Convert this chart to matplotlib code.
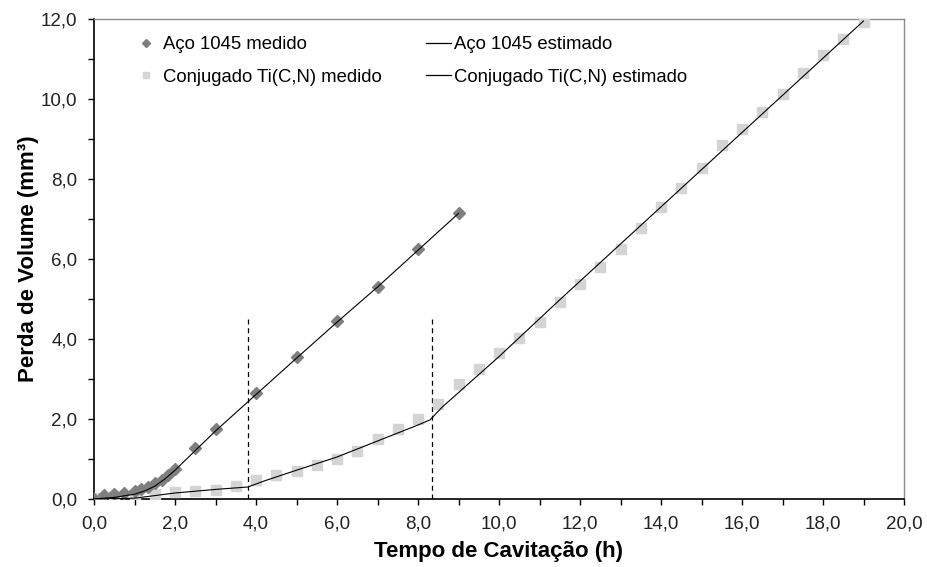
import matplotlib
matplotlib.use("Agg")
import matplotlib.pyplot as plt
from matplotlib.ticker import MultipleLocator, FuncFormatter
from matplotlib.lines import Line2D

plt.rcParams['font.family'] = ['Liberation Sans', 'DejaVu Sans']

# ---- data ----
aco_x = [0.0, 0.25, 0.5, 0.75, 1.0, 1.17, 1.33, 1.5, 1.67, 1.83, 2.0, 2.5, 3.0, 4.0, 5.0, 6.0, 7.0, 8.0, 9.0]
aco_y = [0.0, 0.10, 0.13, 0.16, 0.19, 0.24, 0.31, 0.39, 0.48, 0.60, 0.76, 1.28, 1.74, 2.66, 3.56, 4.46, 5.29, 6.24, 7.14]

aco_est_x = [0.0, 0.5, 1.0, 1.25, 1.5, 1.75, 2.0, 3.0, 3.8, 5.0, 6.0, 7.0, 8.0, 9.0]
aco_est_y = [0.0, 0.04, 0.12, 0.2, 0.32, 0.5, 0.72, 1.7, 2.43, 3.52, 4.42, 5.3, 6.22, 7.14]

ti_x = [0.0, 0.5, 1.0, 1.5, 2.0, 2.5, 3.0, 3.5, 4.0, 4.5, 5.0, 5.5, 6.0, 6.5, 7.0, 7.5, 8.0, 8.5, 9.0, 9.5,
        10.0, 10.5, 11.0, 11.5, 12.0, 12.5, 13.0, 13.5, 14.0, 14.5, 15.0, 15.5, 16.0, 16.5, 17.0, 17.5, 18.0, 18.5, 19.0]
ti_y = [0.02, 0.08, 0.10, 0.13, 0.18, 0.20, 0.22, 0.32, 0.48, 0.59, 0.70, 0.86, 1.01, 1.21, 1.50, 1.76, 1.99, 2.37, 2.87, 3.24,
        3.64, 4.02, 4.42, 4.93, 5.38, 5.80, 6.26, 6.78, 7.31, 7.77, 8.27, 8.84, 9.26, 9.68, 10.12, 10.66, 11.11, 11.50, 11.92]

ti_est_x = [0.0, 1.0, 2.0, 3.0, 3.8, 4.2, 5.0, 6.0, 7.0, 8.0, 8.3, 8.6, 10.0, 11.5, 19.0]
ti_est_y = [0.0, 0.02, 0.15, 0.24, 0.30, 0.45, 0.72, 1.05, 1.45, 1.85, 1.98, 2.3, 3.56, 4.98, 11.95]

transition_x = [3.8, 8.35]
transition_top = 4.55

labels = ["Aço 1045 medido", "Aço 1045 estimado",
          "Conjugado Ti(C,N) medido", "Conjugado Ti(C,N) estimado"]

# ---- figure ----
fig = plt.figure(figsize=(9.27, 5.67), dpi=100)
ax = fig.add_axes([94/927, 1-499/567, 810/927, 480/567])

c_dia = '#7f7f7f'
c_sq = '#d4d4d4'

ax.plot(ti_x, ti_y, linestyle='none', marker='s', markersize=6.8, color=c_sq, zorder=3)
ax.plot(aco_x, aco_y, linestyle='none', marker='D', markersize=6, color=c_dia, zorder=3)
ax.plot(aco_est_x, aco_est_y, color='black', linewidth=0.8, zorder=4)
ax.plot(ti_est_x, ti_est_y, color='black', linewidth=0.8, zorder=4)

for xv in transition_x:
    ax.plot([xv, xv], [0, transition_top], color='black', linestyle=(0, (4, 3)), linewidth=0.9, zorder=2)

ax.set_xlim(0, 20)
ax.set_ylim(0, 12)
ax.xaxis.set_major_locator(MultipleLocator(2))
ax.xaxis.set_minor_locator(MultipleLocator(1))
ax.yaxis.set_major_locator(MultipleLocator(2))
ax.yaxis.set_minor_locator(MultipleLocator(1))
fmt = FuncFormatter(lambda v, p: f"{v:.1f}".replace('.', ','))
ax.xaxis.set_major_formatter(fmt)
ax.yaxis.set_major_formatter(fmt)

ax.tick_params(which='both', direction='out', length=4, width=1, color='black')
ax.tick_params(axis='x', which='major', labelsize=13.5, pad=8, labelcolor='#222222')
ax.tick_params(axis='y', which='major', labelsize=13.5, pad=8, labelcolor='#222222')

for s in ['left', 'bottom']:
    ax.spines[s].set_color('black')
    ax.spines[s].set_linewidth(1.2)
for s in ['top', 'right']:
    ax.spines[s].set_color('#8c8c8c')
    ax.spines[s].set_linewidth(1.0)

ax.set_xlabel("Tempo de Cavitação (h)", fontsize=16, fontweight='bold')
ax.set_ylabel("Perda de Volume (mm³)", fontsize=16, fontweight='bold')
ax.xaxis.set_label_coords(0.5, -0.088)
ax.yaxis.set_label_coords(-0.068, 0.5)

handles = [
    Line2D([], [], linestyle='none', marker='D', markersize=4.5, color=c_dia),
    Line2D([], [], linestyle='none', marker='s', markersize=5, color=c_sq),
    Line2D([], [], color='black', linewidth=0.9),
    Line2D([], [], color='black', linewidth=0.9),
]
leg_labels = [labels[0], labels[2], labels[1], labels[3]]
ax.legend(handles, leg_labels, ncol=2, loc='upper left', bbox_to_anchor=(134/927, 1-36/567),
          bbox_transform=fig.transFigure, frameon=False, fontsize=13.3,
          handlelength=1.35, handletextpad=0.2, columnspacing=2.4, labelspacing=0.85,
          borderpad=0, borderaxespad=0)

fig.savefig("out.png", dpi=100)
